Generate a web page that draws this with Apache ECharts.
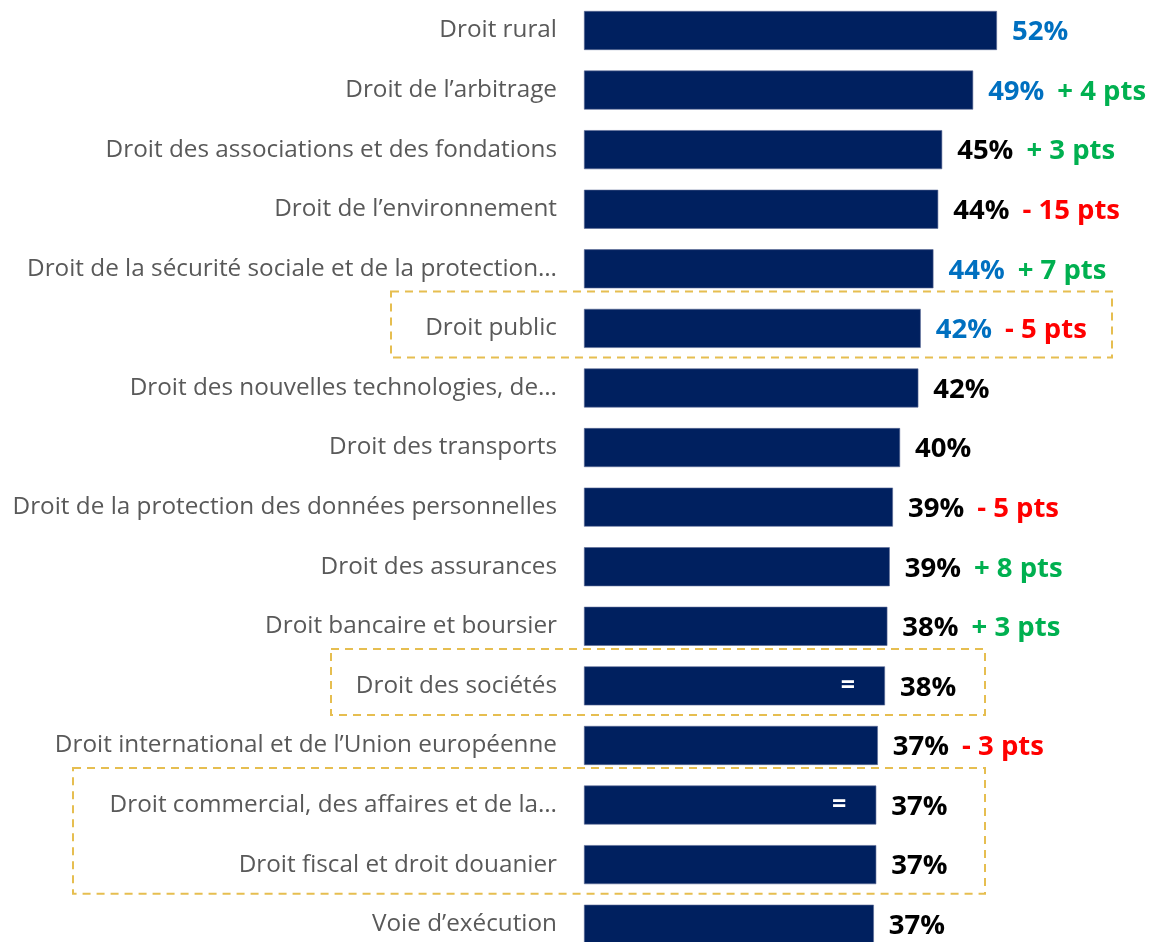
<!DOCTYPE html>
<html>
<head>
<meta charset="utf-8">
<script src="https://cdn.jsdelivr.net/npm/echarts@6/dist/echarts.min.js"></script>
<style>
html,body{margin:0;padding:0;background:#fff;overflow:hidden;}
#chart{width:1150px;height:954px;}
</style>
</head>
<body>
<div id="chart"></div>
<script>
const categories = [
  "Droit rural",
  "Droit de l’arbitrage",
  "Droit des associations et des fondations",
  "Droit de l’environnement",
  "Droit de la sécurité sociale et de la protection…",
  "Droit public",
  "Droit des nouvelles technologies, de…",
  "Droit des transports",
  "Droit de la protection des données personnelles",
  "Droit des assurances",
  "Droit bancaire et boursier",
  "Droit des sociétés",
  "Droit international et de l’Union européenne",
  "Droit commercial, des affaires et de la…",
  "Droit fiscal et droit douanier",
  "Voie d’exécution"
];
const values = [52, 49, 45.1, 44.6, 44, 42.4, 42.1, 39.8, 38.9, 38.5, 38.2, 37.9, 37, 36.8, 36.8, 36.5];
const pctLabels = ["52%","49%","45%","44%","44%","42%","42%","40%","39%","39%","38%","38%","37%","37%","37%","37%"];
const pctHighlight = [true, true, false, false, true, true, false, false, false, false, false, false, false, false, false, false];
const deltas = ["", "+ 4 pts", "+ 3 pts", "- 15 pts", "+ 7 pts", "- 5 pts", "", "", "- 5 pts", "+ 8 pts", "+ 3 pts", "", "- 3 pts", "", "", ""];
const equalMarks = ["", "", "", "", "", "", "", "", "", "", "", "=", "", "=", "", ""];
const boxedGroups = [[5, 5], [11, 11], [13, 14]];

const FONT = "Open Sans";
const chart = echarts.init(document.getElementById('chart'));

const mainData = values.map((v, i) => {
  const pKey = pctHighlight[i] ? 'pb' : 'pk';
  let txt = '{' + pKey + '|' + pctLabels[i] + '}';
  if (deltas[i]) {
    const dKey = deltas[i].trim().charAt(0) === '+' ? 'dg' : 'dr';
    txt += '{' + dKey + '|' + deltas[i] + '}';
  }
  return { value: v, label: { formatter: txt } };
});

const eqData = values.map((v, i) => ({
  value: v,
  label: { show: !!equalMarks[i], formatter: equalMarks[i] }
}));

const pctStyle = { fontFamily: FONT, fontWeight: 'bold', fontSize: 27.5, lineHeight: 34 };
chart.setOption({
  animation: false,
  grid: { left: 584, right: 89.5, top: 0.7, bottom: 0 },
  xAxis: { type: 'value', min: 0, max: 60, show: false },
  yAxis: {
    type: 'category', data: categories, inverse: true,
    axisLine: { show: false }, axisTick: { show: false },
    axisLabel: { margin: 27, fontFamily: FONT, fontSize: 24.3, color: '#595959', padding: [4, 0, 0, 0] }
  },
  series: [
    {
      type: 'bar', data: mainData, barWidth: 39,
      itemStyle: { color: '#00205F', borderColor: '#5a6a96', borderWidth: 0.6 },
      label: {
        show: true, position: 'right', distance: 15, offset: [0, 2],
        rich: {
          pb: Object.assign({ color: '#0070C0' }, pctStyle),
          pk: Object.assign({ color: '#000000' }, pctStyle),
          dg: Object.assign({ color: '#00B050', padding: [0, 0, 0, 13] }, pctStyle),
          dr: Object.assign({ color: '#FF0000', padding: [0, 0, 0, 13] }, pctStyle)
        }
      }
    },
    {
      type: 'bar', data: eqData, barWidth: 39, barGap: '-100%',
      itemStyle: { color: 'transparent' }, silent: true,
      label: { position: 'insideRight', distance: 30, color: '#ffffff', fontFamily: FONT, fontWeight: 'bold', fontSize: 25 }
    }
  ]
});

const boxLefts = [391, 331, 73];
const boxRights = [1112, 985, 985];
const graphics = boxedGroups.map((g, k) => {
  const y0 = chart.convertToPixel({ yAxisIndex: 0 }, g[0]) - 37;
  const y1 = chart.convertToPixel({ yAxisIndex: 0 }, g[1]) + 29;
  return {
    type: 'rect',
    shape: { x: boxLefts[k], y: y0, width: boxRights[k] - boxLefts[k], height: y1 - y0 },
    style: { fill: 'none', stroke: '#E6BE50', lineWidth: 2, lineDash: [8, 6] },
    silent: true
  };
});
chart.setOption({ graphic: graphics });
</script>
</body>
</html>
